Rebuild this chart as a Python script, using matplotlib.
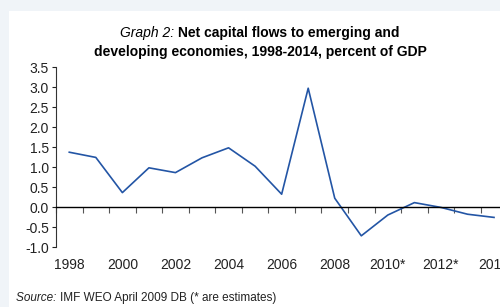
import matplotlib.pyplot as plt
from matplotlib.patches import Rectangle
import numpy as np

plt.rcParams['font.family'] = ['Liberation Sans', 'DejaVu Sans']

# data
years = ['1998', '1999', '2000', '2001', '2002', '2003', '2004', '2005', '2006',
         '2007', '2008', '2009', '2010*', '2011', '2012*', '2013', '2014']
flows = [1.37, 1.24, 0.36, 0.98, 0.86, 1.23, 1.48, 1.02, 0.32,
         2.97, 0.22, -0.72, -0.2, 0.11, -0.01, -0.18, -0.26]
yticks = [-1.0, -0.5, 0.0, 0.5, 1.0, 1.5, 2.0, 2.5, 3.0, 3.5]

fig = plt.figure(figsize=(5, 3.07), dpi=100)
fig.patch.set_facecolor('#f0f4f8')

# white panel behind everything
fig.patches.append(Rectangle((0.018, 0), 1.0, 0.964, transform=fig.transFigure,
                             facecolor='white', edgecolor='none', zorder=-5))

ax = fig.add_axes([0.112, 0.1954, 0.9026, 0.5863])
ax.set_facecolor('none')

x = np.arange(len(years))
ax.plot(x, flows, color='#2355a5', lw=1.2)

ax.set_xlim(-0.5, len(years) - 0.5)
ax.set_ylim(-1.0, 3.5)
ax.set_yticks(yticks)
ax.set_yticklabels(['%.1f' % v for v in yticks])

# x axis drawn at zero, labels low
ax.spines['bottom'].set_position(('data', 0))
ax.spines['bottom'].set_linewidth(1.0)
ax.spines['top'].set_visible(False)
ax.spines['right'].set_visible(False)
ax.spines['left'].set_linewidth(0.8)
ax.spines['left'].set_color('#333333')

ax.set_xticks(x[::2])
ax.set_xticklabels(years[::2])
ax.set_xticks(np.arange(-0.5, len(years), 1.0), minor=True)
ax.tick_params(axis='x', which='major', length=0, pad=37, labelsize=10, colors='#222222')
ax.tick_params(axis='x', which='minor', length=4, width=0.8, direction='out', color='#555555')
ax.tick_params(axis='y', length=3, width=0.8, pad=2, labelsize=10, colors='#222222')

# title: italic prefix + bold text, centred together
r = fig.canvas.get_renderer()
t1 = fig.text(0, 0.892, 'Graph 2: ', ha='left', va='center', fontsize=10, style='italic')
t2 = fig.text(0, 0.892, 'Net capital flows to emerging and', ha='left', va='center',
              fontsize=10, fontweight='bold')
w1 = t1.get_window_extent(r).width / fig.bbox.width
w2 = t2.get_window_extent(r).width / fig.bbox.width
x0 = 0.52 - (w1 + w2) / 2
t1.set_x(x0)
t2.set_x(x0 + w1)
fig.text(0.52, 0.831, 'developing economies, 1998-2014, percent of GDP',
         ha='center', va='center', fontsize=10, fontweight='bold')

s1 = fig.text(0.032, 0.029, 'Source: ', ha='left', va='center', fontsize=8.5,
              style='italic', color='#222222')
ws = s1.get_window_extent(r).width / fig.bbox.width
fig.text(0.032 + ws, 0.029, 'IMF WEO April 2009 DB (* are estimates)', ha='left',
         va='center', fontsize=8.5, color='#222222')

fig.savefig('out.png', dpi=100, facecolor=fig.get_facecolor())
